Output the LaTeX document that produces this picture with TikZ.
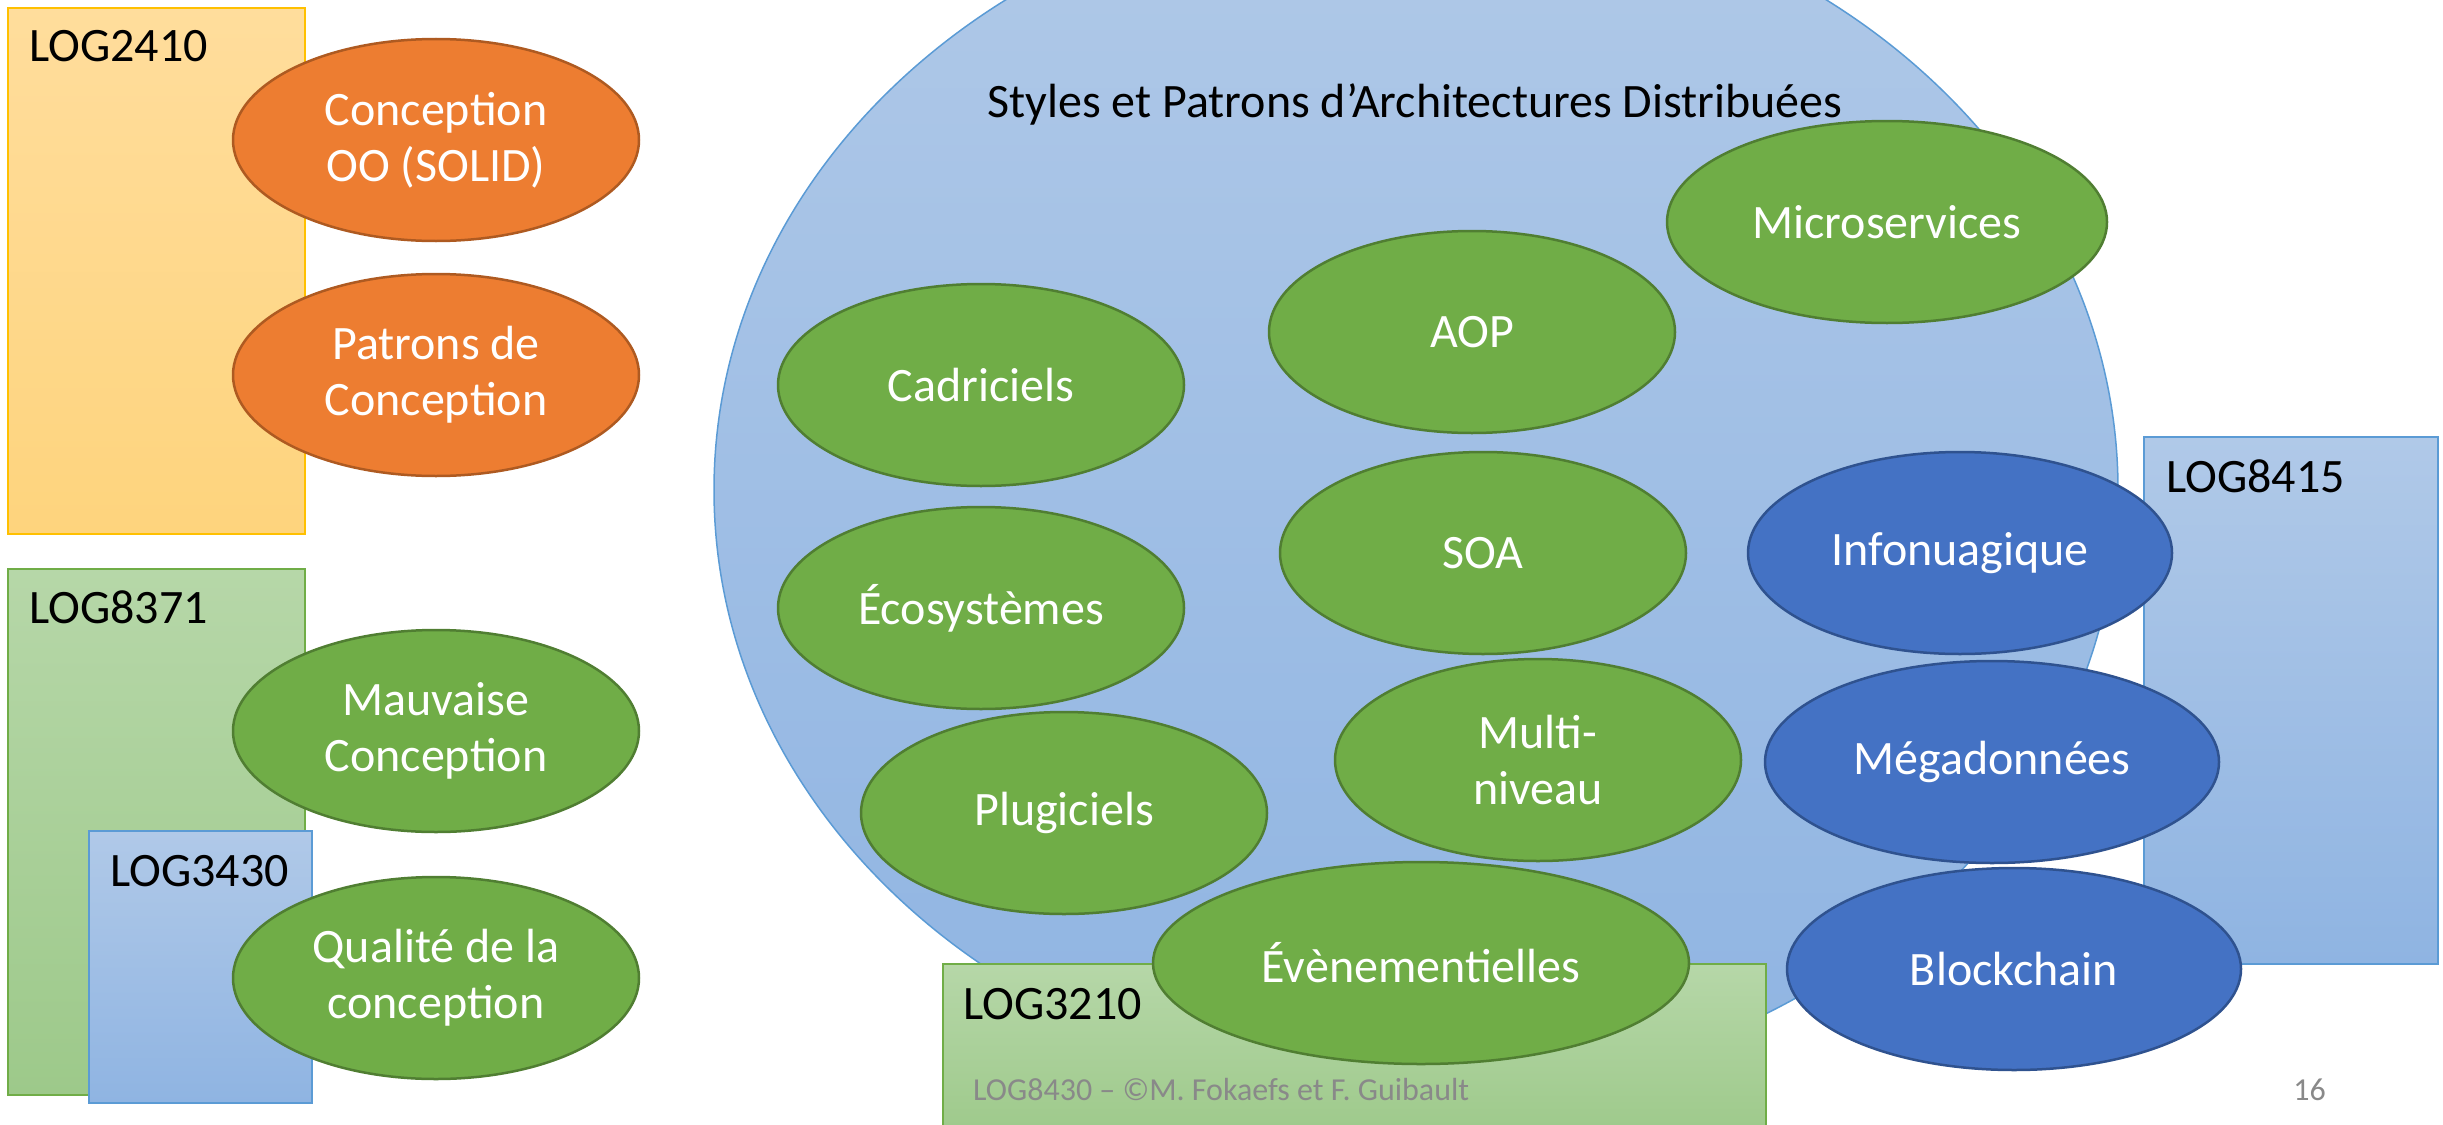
\documentclass[tikz,border=0pt]{standalone}
\usepackage{fontspec}
\setmainfont{Carlito}
\usepackage{tikz}
\usetikzlibrary{shapes.geometric}

\definecolor{orangefill}{HTML}{ED7D31}
\definecolor{orangeline}{HTML}{AE5A21}
\definecolor{greenfill}{HTML}{70AD47}
\definecolor{greenline}{HTML}{507E32}
\definecolor{bluefill}{HTML}{4472C4}
\definecolor{blueline}{HTML}{2F528F}
\definecolor{goldtop}{HTML}{FFDD9C}
\definecolor{goldbot}{HTML}{FED47D}
\definecolor{goldline}{HTML}{FFC000}
\definecolor{leaftop}{HTML}{B6D7A8}
\definecolor{leafbot}{HTML}{9DC98A}
\definecolor{skytop}{HTML}{B0C9E8}
\definecolor{skybot}{HTML}{8FB4E2}
\definecolor{skyline}{HTML}{5B9BD5}
\definecolor{footgray}{HTML}{898989}

\newcommand{\slidefont}{\fontsize{48}{56}\selectfont}
\newcommand{\footfont}{\fontsize{32}{38}\selectfont}

\begin{document}
\begin{tikzpicture}[x=1pt,y=-1pt,
    bubble/.style={ellipse, draw, line width=2.5pt, inner sep=0pt,
        minimum width=406pt, minimum height=202pt,
        text=white, align=center, font=\slidefont},
    oobubble/.style={bubble, fill=orangefill, draw=orangeline},
    archbubble/.style={bubble, fill=greenfill, draw=greenline},
    cloudbubble/.style={bubble, fill=bluefill, draw=blueline},
    goldbox/.style={line width=1.5pt, draw=goldline, top color=goldtop, bottom color=goldbot},
    leafbox/.style={line width=1.5pt, draw=greenfill, top color=leaftop, bottom color=leafbot},
    skybox/.style={line width=1.5pt, draw=skyline, top color=skytop, bottom color=skybot},
    courselabel/.style={anchor=base west, inner sep=0pt, font=\slidefont}]

\useasboundingbox (0,0) rectangle (2443,1124);
\clip (0,0) rectangle (2443,1124);

% cours de conception (gauche)
\draw[goldbox] (8,8) rectangle (305,534);
\draw[leafbox] (8,569) rectangle (305,1095);
\draw[skybox] (89,831) rectangle (312,1103);

% grande zone des architectures distribuees
\node[ellipse, draw=skyline, line width=1.5pt, inner sep=0pt,
    top color=skytop, bottom color=skybot,
    minimum width=1404pt, minimum height=1208pt] (distrib) at (1416,490) {};

\draw[skybox] (2144,437) rectangle (2438,964);
\draw[leafbox] (943,964) rectangle (1766,1140);

\node[courselabel] (log2410) at (29,62) {LOG2410};
\node[courselabel] (log8371) at (29,623) {LOG8371};
\node[courselabel] (log3430) at (110,886) {LOG3430};
\node[courselabel] (log8415) at (2166,492) {LOG8415};
\node[courselabel] (log3210) at (963,1019) {LOG3210};

\node[anchor=base, inner sep=0pt, font=\slidefont] (titre) at (1415,117)
    {Styles et Patrons d’Architectures Distribuées};

% bulles
\node[oobubble] (solid) at (436,140) {Conception\\OO (SOLID)};
\node[oobubble] (patrons) at (436,375) {Patrons de\\Conception};
\node[archbubble] (mauvaise) at (436,731) {Mauvaise\\Conception};
\node[archbubble] (qualite) at (436,978) {Qualité de la\\conception};

\node[archbubble] (cadriciels) at (981,385) {Cadriciels};
\node[archbubble] (ecosystemes) at (981,608) {Écosystèmes};
\node[archbubble] (plugiciels) at (1064,813) {Plugiciels};
\node[archbubble] (aop) at (1472,332) {AOP};
\node[archbubble] (soa) at (1483,553) {SOA};
\node[archbubble] (multiniveau) at (1538,760) {Multi-\\niveau};
\node[archbubble, minimum width=536pt] (evenements) at (1421,963) {Évènementielles};
\node[archbubble, minimum width=440pt] (microservices) at (1887,222) {Microservices};

\node[cloudbubble, minimum width=424pt] (infonuagique) at (1960,553) {Infonuagique};
\node[cloudbubble, minimum width=454pt] (megadonnees) at (1992,762) {Mégadonnées};
\node[cloudbubble, minimum width=454pt] (blockchain) at (2014,969) {Blockchain};

% pied de page
\node[anchor=base west, inner sep=0pt, font=\footfont, text=footgray] (pied) at (973,1100)
    {LOG8430 – ©M. Fokaefs et F. Guibault};
\node[anchor=base east, inner sep=0pt, font=\footfont, text=footgray] (page) at (2326,1100) {16};
\end{tikzpicture}
\end{document}
